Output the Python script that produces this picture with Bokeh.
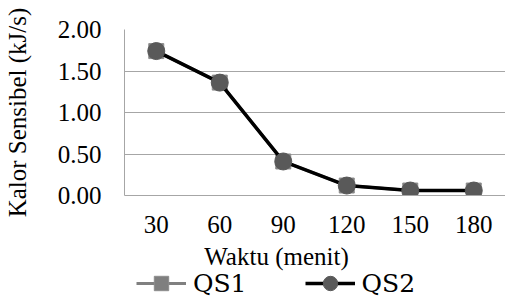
from bokeh.plotting import figure
from bokeh.layouts import column
from bokeh.models import (FactorRange, Range1d, FixedTicker, NumeralTickFormatter,
                          Legend, LegendItem, Label)
from bokeh.embed import file_html
from bokeh.resources import INLINE

categories = ["30", "60", "90", "120", "150", "180"]
qs1 = [1.74, 1.36, 0.41, 0.12, 0.06, 0.06]
qs2 = [1.74, 1.36, 0.41, 0.12, 0.06, 0.06]
y_ticks = [0.0, 0.5, 1.0, 1.5, 2.0]
x_title = "Waktu (menit)"
y_title = "Kalor Sensibel (kJ/s)"
series_names = ["QS1", "QS2"]

GRID = "#a6a6a6"

# ---- main chart ----
p = figure(x_range=FactorRange(*categories, range_padding=0),
           y_range=Range1d(0, 2),
           width=505, height=240, output_backend="svg", toolbar_location=None,
           min_border_left=121, min_border_right=0, min_border_top=29,
           min_border_bottom=45)
p.outline_line_color = None
p.xgrid.grid_line_color = None
p.ygrid.grid_line_color = GRID

p.yaxis.ticker = FixedTicker(ticks=y_ticks)
p.yaxis.formatter = NumeralTickFormatter(format="0.00")
for ax in (p.xaxis, p.yaxis):
    ax.axis_line_color = GRID
    ax.major_tick_line_color = None
    ax.minor_tick_line_color = None
    ax.major_label_text_font_size = "25px"
    ax.major_label_text_color = "black"
p.xaxis.major_label_text_font = "serif"
p.yaxis.major_label_text_font = "'Liberation Serif'"
p.yaxis.major_label_standoff = 17
p.xaxis.major_label_standoff = 14
p.yaxis.axis_label = y_title
p.yaxis.axis_label_text_font = "Liberation Serif"
p.yaxis.axis_label_text_font_size = "25px"
p.yaxis.axis_label_text_font_style = "normal"
p.yaxis.axis_label_text_color = "black"
p.yaxis.axis_label_standoff = 24


def draw(fig):
    a = fig.line(categories, qs1, line_color="#808080", line_width=3)
    b = fig.scatter(categories, qs1, marker="square", size=15,
                    fill_color="#7f7f7f", line_color="#8c8c8c")
    c = fig.line(categories, qs2, line_color="black", line_width=3.5)
    d = fig.scatter(categories, qs2, marker="circle", size=17,
                    fill_color="#595959", line_color="#595959")
    return a, b, c, d


draw(p)

# ---- x title + legend strip (frame aligned with the main chart) ----
p2 = figure(x_range=FactorRange(*categories), y_range=Range1d(10, 11),
            width=505, height=61, output_backend="svg", toolbar_location=None,
            x_axis_location=None, y_axis_location=None,
            min_border_left=0, min_border_right=0, min_border_top=0,
            min_border_bottom=0)
p2.outline_line_color = None
p2.grid.grid_line_color = None
l1, s1, l2, s2 = draw(p2)

p2.add_layout(Label(x=152, y=45, x_units="screen", y_units="screen",
                    text=x_title, text_font="Times New Roman",
                    text_font_size="25px",
                    text_align="center", text_baseline="middle",
                    text_color="black"))

legend = Legend(items=[LegendItem(label=series_names[0], renderers=[l1, s1]),
                       LegendItem(label=series_names[1], renderers=[l2, s2])],
                orientation="horizontal", location=(12, 0),
                glyph_width=50, glyph_height=36, label_standoff=7, spacing=58,
                padding=0, margin=0, border_line_color=None,
                background_fill_alpha=0, label_text_font="DejaVu Serif",
                label_text_font_size="25px", label_text_color="black")
p2.add_layout(legend)

layout = column(p, p2, spacing=0)
open("out.html", "w").write(file_html(layout, INLINE))
